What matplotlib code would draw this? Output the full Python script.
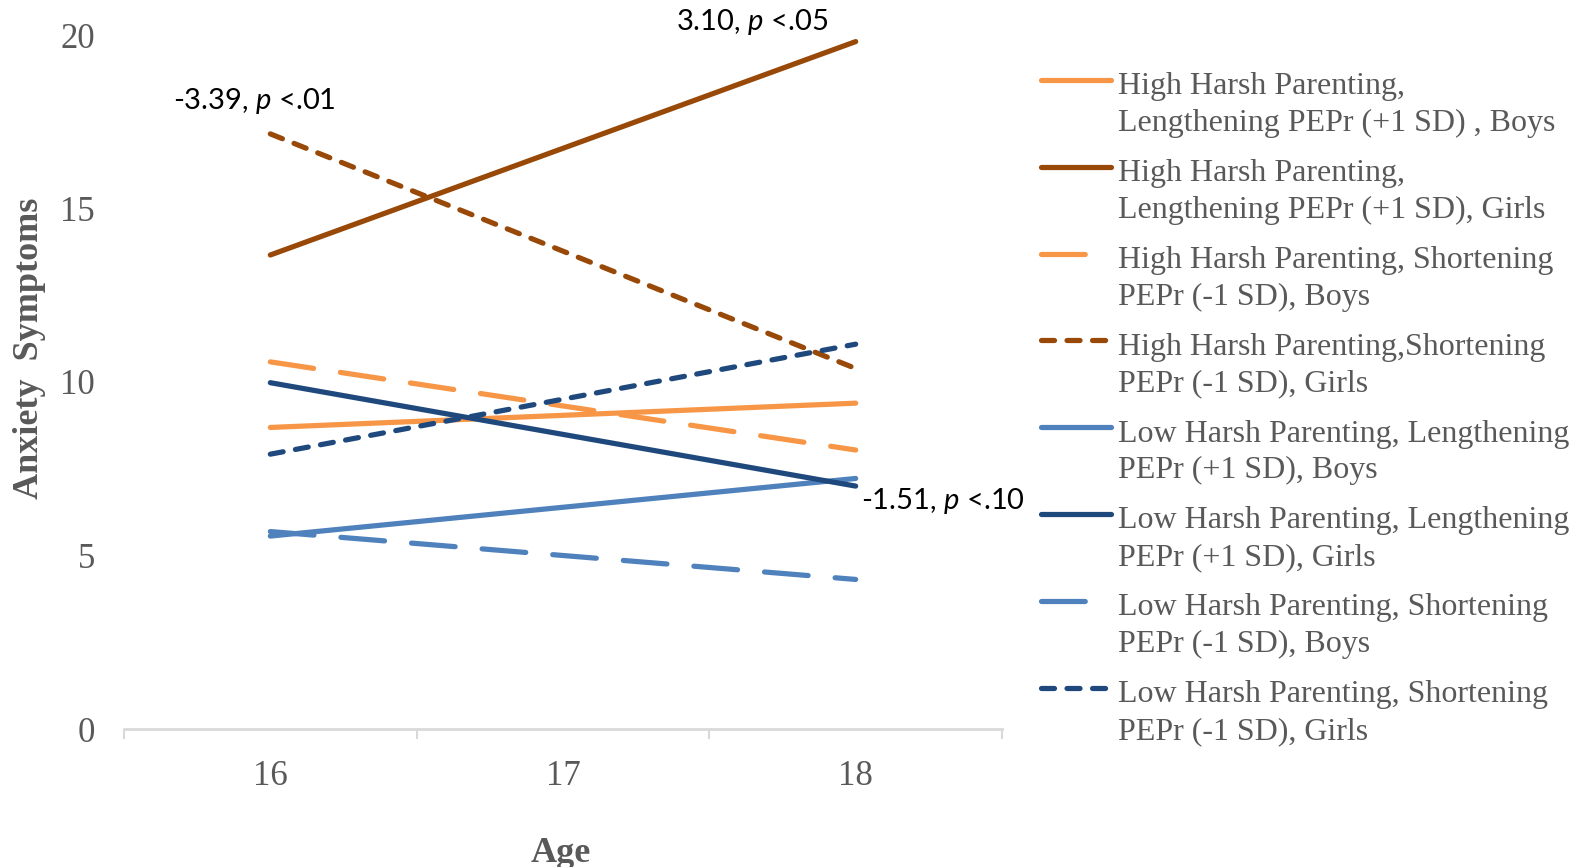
import numpy as np
import matplotlib
matplotlib.use("Agg")
import matplotlib.pyplot as plt
from matplotlib.legend_handler import HandlerLine2D

# predicted anxiety symptoms at age 16 and 18 for each group
ages = ["16", "17", "18"]
age_pos = [0, 2]  # values exist at 16 and 18 only

hl_boys = [8.69, 9.39]
hl_girls = [13.66, 19.81]
hs_boys = [10.58, 8.04]
hs_girls = [17.15, 10.39]
ll_boys = [5.56, 7.22]
ll_girls = [9.98, 7.00]
ls_boys = [5.69, 4.31]
ls_girls = [7.92, 11.09]

labels = [
    "High Harsh Parenting,\nLengthening PEPr (+1 SD) , Boys",
    "High Harsh Parenting,\nLengthening PEPr (+1 SD), Girls",
    "High Harsh Parenting, Shortening\nPEPr (-1 SD), Boys",
    "High Harsh Parenting,Shortening\nPEPr (-1 SD), Girls",
    "Low Harsh Parenting, Lengthening\nPEPr (+1 SD), Boys",
    "Low Harsh Parenting, Lengthening\nPEPr (+1 SD), Girls",
    "Low Harsh Parenting, Shortening\nPEPr (-1 SD), Boys",
    "Low Harsh Parenting, Shortening\nPEPr (-1 SD), Girls",
]

slopes = [("-3.39, ", "<.01"), ("3.10, ", "<.05"), ("-1.51, ", "<.10")]

ORANGE = "#F79646"
BROWN = "#984807"
LBLUE = "#4F81BD"
NAVY = "#1F497D"
GREY = "#595959"

long_dash = (0, (8.4, 5.2))
short_dash = (0, (2.5, 2.4))

plt.rcParams["mathtext.fontset"] = "custom"
plt.rcParams["mathtext.rm"] = "Lato"
plt.rcParams["mathtext.it"] = "Lato:italic"

LINESP = 1.35


class FirstLineHandler(HandlerLine2D):
    # put the legend line next to the first line of a two-line label
    def create_artists(self, legend, orig_handle, xdescent, ydescent,
                       width, height, fontsize, trans):
        arts = super().create_artists(legend, orig_handle, xdescent, ydescent,
                                      width, height, fontsize, trans)
        for a in arts:
            a.set_ydata(np.asarray(a.get_ydata()) + 0.58 * LINESP * fontsize)
        return arts


fig = plt.figure(figsize=(15.77, 8.67), dpi=100)
ax = fig.add_axes([124 / 1577, 1 - 729 / 867, 878 / 1577, 694 / 867])

series = [
    (hl_boys, ORANGE, "-"),
    (hl_girls, BROWN, "-"),
    (hs_boys, ORANGE, long_dash),
    (hs_girls, BROWN, short_dash),
    (ll_boys, LBLUE, "-"),
    (ll_girls, NAVY, "-"),
    (ls_boys, LBLUE, long_dash),
    (ls_girls, NAVY, short_dash),
]
handles = []
for (vals, col, ls), lab in zip(series, labels):
    h, = ax.plot(age_pos, vals, color=col, linestyle=ls, linewidth=3.75,
                 solid_capstyle="round", dash_capstyle="round", label=lab)
    handles.append(h)

ax.set_xlim(-0.5, 2.5)
ax.set_ylim(0, 20)
ax.set_xticks(range(len(ages)))
ax.set_xticklabels(ages)
ax.set_xticks([-0.5, 0.5, 1.5, 2.5], minor=True)
ax.set_yticks([0, 5, 10, 15, 20])
ax.tick_params(axis="x", which="major", length=0, pad=22, labelsize=25,
               labelcolor=GREY)
ax.tick_params(axis="x", which="minor", length=7, width=1.5,
               color="#D9D9D9", direction="out")
ax.tick_params(axis="y", length=0, pad=21, labelsize=25, labelcolor=GREY)
for lab in ax.get_xticklabels() + ax.get_yticklabels():
    lab.set_fontfamily("Liberation Serif")

for s in ["top", "right", "left"]:
    ax.spines[s].set_visible(False)
ax.spines["bottom"].set_color("#D9D9D9")
ax.spines["bottom"].set_linewidth(2)

fig.text(30 / 1577, 1 - 348 / 867, "Anxiety  Symptoms", rotation=90,
         ha="center", va="center", fontsize=26, fontweight="bold",
         color=GREY, family="Liberation Serif")
fig.text(561 / 1577, 1 - 853 / 867, "Age", ha="center", va="center",
         fontsize=26, fontweight="bold", color=GREY,
         family="Liberation Serif")

# simple slope annotations
note_pos = [(-0.333, 18.11), (1.386, 20.37), (2.018, 6.58)]
for (b, p), (x, y) in zip(slopes, note_pos):
    ax.text(x, y, b + r"$\mathit{p}$" + " " + p, ha="left", va="center",
            fontsize=21, family="Lato", color="black", clip_on=False)

leg = fig.legend(handles=handles, loc="upper left",
                 bbox_to_anchor=(1041 / 1577, 1 - 72 / 867),
                 frameon=False, borderpad=0, borderaxespad=0,
                 handlelength=2.2, handletextpad=0.22, labelspacing=0.66,
                 prop={"family": "Liberation Serif", "size": 23},
                 handler_map={matplotlib.lines.Line2D: FirstLineHandler()})
for t in leg.get_texts():
    t.set_color(GREY)
    t.set_linespacing(LINESP)

fig.savefig("out.png", dpi=100)
